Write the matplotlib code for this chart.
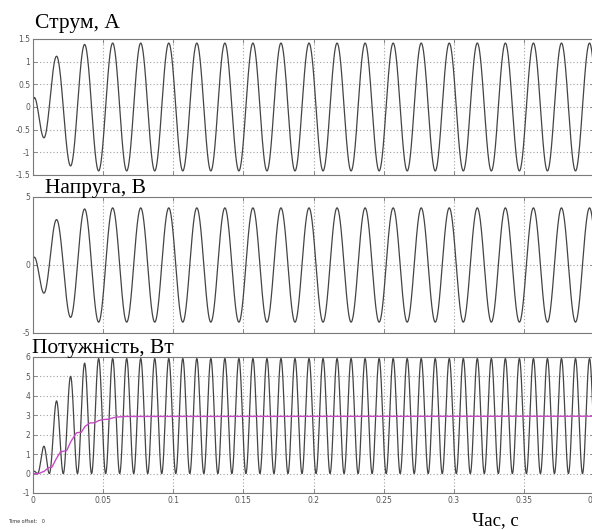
import numpy as np
import matplotlib
matplotlib.use("Agg")
import matplotlib.pyplot as plt

# ---- data ----
freq_hz = 50.0
t_end = 0.4

# current extrema (time s, value A) during the start-up transient
cur_ext_t = [0.0, 0.0009, 0.0078, 0.0168, 0.0268, 0.0368, 0.0468]
cur_ext_v = [0.15, 0.21, -0.68, 1.12, -1.30, 1.38, -1.41]
cur_amp = 1.41

# voltage extrema (time s, value V) during the start-up transient
vol_ext_t = [0.0, 0.0009, 0.0078, 0.0168, 0.0268, 0.0368, 0.0468]
vol_ext_v = [0.45, 0.58, -2.07, 3.34, -3.85, 4.12, -4.20]
vol_amp = 4.20

# mean power (magenta) read at breakpoints
pm_t = [0.0, 0.004, 0.008, 0.011, 0.0135, 0.0165, 0.0196, 0.024, 0.027, 0.031,
        0.0345, 0.037, 0.0404, 0.044, 0.047, 0.0497, 0.054, 0.057, 0.060, 0.066, 0.4]
pm_v = [0.0, 0.0, 0.12, 0.30, 0.33, 0.75, 1.12, 1.18, 1.65, 2.10,
        2.13, 2.42, 2.60, 2.62, 2.73, 2.78, 2.80, 2.87, 2.91, 2.94, 2.95]

titles = ["Струм, А", "Напруга, В", "Потужність, Вт"]
x_ticks = [0, 0.05, 0.1, 0.15, 0.2, 0.25, 0.3, 0.35, 0.4]
x_tick_labels = ["0", "0.05", "0.1", "0.15", "0.2", "0.25", "0.3", "0.35", "0.4"]
y1_ticks = [-1.5, -1, -0.5, 0, 0.5, 1, 1.5]
y1_labels = ["-1.5", "-1", "-0.5", "0", "0.5", "1", "1.5"]
y2_ticks = [-5, 0, 5]
y2_labels = ["-5", "0", "5"]
y3_ticks = [-1, 0, 1, 2, 3, 4, 5, 6]
y3_labels = ["-1", "0", "1", "2", "3", "4", "5", "6"]


def build_wave(ext_t, ext_v, amp, t):
    half = 0.5 / freq_hz
    times = list(ext_t)
    vals = list(ext_v)
    sgn = -np.sign(vals[-1])
    while times[-1] < t[-1] + half:
        times.append(times[-1] + half)
        vals.append(sgn * amp)
        sgn = -sgn
    times = np.array(times)
    vals = np.array(vals)
    idx = np.clip(np.searchsorted(times, t, side="right") - 1, 0, len(times) - 2)
    t0, t1 = times[idx], times[idx + 1]
    a, b = vals[idx], vals[idx + 1]
    s = (t - t0) / (t1 - t0)
    return a + (b - a) * (1 - np.cos(np.pi * s)) / 2


t = np.linspace(0, t_end, 8001)
cur = build_wave(cur_ext_t, cur_ext_v, cur_amp, t)
vol = build_wave(vol_ext_t, vol_ext_v, vol_amp, t)
pw = cur * vol

fig = plt.figure(figsize=(5.92, 5.30), dpi=100)
W, H = 592.0, 530.0
left_px, right_px = 33, 594
boxes = [(39, 175), (197, 333), (357, 493)]

line_col = "#444444"
grid_col = "#a0a0a0"
tick_col = "#555555"

axes = []
for (top, bot) in boxes:
    ax = fig.add_axes([left_px / W, (H - bot) / H, (right_px - left_px) / W, (bot - top) / H])
    ax.set_xlim(0, t_end)
    ax.set_xticks(x_ticks)
    ax.grid(True, color=grid_col, linestyle=(0, (1, 2)), linewidth=0.8)
    for sp in ax.spines.values():
        sp.set_color("#7a7a7a")
        sp.set_linewidth(0.8)
    ax.tick_params(axis="both", direction="in", length=3, width=0.6, colors="#7a7a7a",
                   labelsize=5.5, labelcolor=tick_col, pad=2)
    ax.tick_params(top=True, right=True)
    axes.append(ax)

ax1, ax2, ax3 = axes
ax1.plot(t, cur, color=line_col, linewidth=0.9)
ax1.set_ylim(-1.5, 1.5)
ax1.set_yticks(y1_ticks)
ax1.set_yticklabels(y1_labels)
ax1.set_xticklabels([])

ax2.plot(t, vol, color=line_col, linewidth=0.9)
ax2.set_ylim(-5, 5)
ax2.set_yticks(y2_ticks)
ax2.set_yticklabels(y2_labels)
ax2.set_xticklabels([])

ax3.plot(t, pw, color=line_col, linewidth=0.9)
ax3.plot(pm_t, pm_v, color="#c84ac8", linewidth=1.0)
ax3.set_ylim(-1, 6)
ax3.set_yticks(y3_ticks)
ax3.set_yticklabels(y3_labels)
ax3.set_xticklabels(x_tick_labels)

serif = ["Liberation Serif", "DejaVu Serif"]
fig.text(35 / W, 1 - 28 / H, titles[0], family=serif, fontsize=15.5, ha="left", va="baseline")
fig.text(45 / W, 1 - 193 / H, titles[1], family=serif, fontsize=15.5, ha="left", va="baseline")
fig.text(32 / W, 1 - 353 / H, titles[2], family=serif, fontsize=15.5, ha="left", va="baseline")
fig.text(472 / W, 1 - 525 / H, "Час, с", family=serif, fontsize=13.5, ha="left", va="baseline")
fig.text(8 / W, 1 - 523 / H, "Time offset:   0", fontsize=3.5, color="#333333", ha="left", va="baseline")

fig.savefig("out.png", dpi=100)
